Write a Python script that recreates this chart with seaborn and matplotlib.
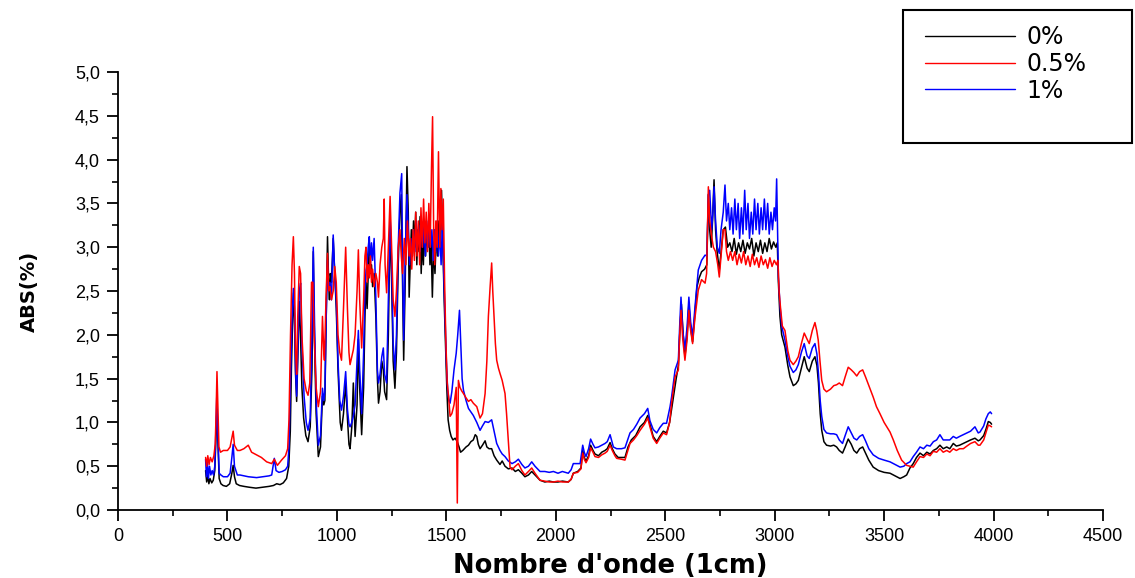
import matplotlib
matplotlib.use("Agg")
import matplotlib.pyplot as plt
from matplotlib.patches import Rectangle
from matplotlib.lines import Line2D
import matplotlib.ticker as mticker
import seaborn as sns
import pandas as pd

# ─── DATA ───────────────────────────────────────────────────────────────────
spec_0pct = [
    (400, 0.45), (405, 0.32), (410, 0.40), (415, 0.30), (420, 0.36), (428, 0.31), (435, 0.34),
    (442, 0.45), (448, 0.85), (452, 1.15), (456, 0.80), (462, 0.36), (470, 0.30), (480, 0.28),
    (495, 0.27), (510, 0.30), (520, 0.42), (526, 0.51), (532, 0.38), (540, 0.30), (555, 0.28),
    (575, 0.27), (600, 0.26), (630, 0.25), (660, 0.26), (690, 0.27), (710, 0.28), (725, 0.30),
    (740, 0.29), (755, 0.31), (770, 0.36), (780, 0.50), (787, 0.90), (792, 1.60), (797, 2.10),
    (802, 2.48), (806, 2.20), (811, 1.55), (816, 1.24), (821, 1.70), (828, 2.38), (833, 2.05),
    (840, 1.40), (848, 1.05), (858, 0.85), (868, 0.78), (878, 0.95), (886, 1.60), (892, 2.95),
    (897, 2.00), (905, 1.10), (915, 0.61), (925, 0.72), (934, 1.30), (940, 1.20), (945, 1.25),
    (950, 2.00), (957, 3.12), (962, 2.60), (966, 2.40), (970, 2.70), (975, 2.60), (983, 3.10),
    (990, 2.70), (997, 2.30), (1005, 1.60), (1015, 1.00), (1021, 0.91), (1030, 1.10), (1040, 1.45),
    (1048, 1.05), (1055, 0.75), (1060, 0.70), (1068, 0.95), (1075, 1.45), (1083, 0.84), (1092, 1.20),
    (1098, 1.95), (1104, 1.40), (1113, 0.86), (1122, 1.40), (1128, 2.20), (1133, 2.60), (1138, 2.30),
    (1143, 2.70), (1148, 3.05), (1153, 2.70), (1158, 2.80), (1163, 2.55), (1170, 2.70), (1178, 2.20),
    (1185, 1.50), (1190, 1.22), (1197, 1.35), (1205, 1.70), (1212, 1.60), (1218, 1.35), (1227, 1.26),
    (1235, 2.00), (1243, 3.30), (1250, 2.60), (1257, 1.70), (1265, 1.39), (1272, 1.80), (1280, 2.80),
    (1288, 3.40), (1294, 3.60), (1300, 2.60), (1305, 1.71), (1312, 2.60), (1320, 3.92), (1326, 3.40),
    (1330, 2.43), (1335, 2.80), (1340, 3.20), (1345, 2.90), (1350, 3.30), (1355, 3.00), (1360, 3.40),
    (1365, 2.80), (1370, 3.20), (1375, 2.95), (1380, 3.35), (1385, 2.70), (1390, 3.10), (1395, 2.80),
    (1400, 3.30), (1405, 2.90), (1410, 3.20), (1415, 3.00), (1420, 3.25), (1425, 2.80), (1430, 3.10),
    (1436, 2.43), (1442, 3.00), (1448, 2.70), (1455, 3.20), (1460, 2.90), (1466, 3.30), (1472, 3.00),
    (1478, 3.65), (1484, 3.00), (1490, 2.40), (1496, 1.90), (1502, 1.40), (1508, 1.03), (1515, 0.91),
    (1522, 0.84), (1530, 0.80), (1540, 0.82), (1550, 0.78), (1558, 0.72), (1565, 0.66), (1575, 0.68),
    (1590, 0.72), (1601, 0.74), (1612, 0.78), (1623, 0.80), (1632, 0.86), (1639, 0.84), (1646, 0.75),
    (1654, 0.70), (1665, 0.74), (1677, 0.79), (1685, 0.72), (1695, 0.70), (1707, 0.70), (1718, 0.62),
    (1730, 0.57), (1745, 0.52), (1755, 0.56), (1768, 0.50), (1783, 0.47), (1800, 0.48), (1815, 0.44),
    (1829, 0.46), (1845, 0.42), (1859, 0.38), (1875, 0.40), (1890, 0.44), (1905, 0.40), (1928, 0.34),
    (1950, 0.32), (1970, 0.33), (1989, 0.32), (2010, 0.32), (2030, 0.33), (2057, 0.32), (2070, 0.35),
    (2080, 0.42), (2100, 0.44), (2115, 0.48), (2123, 0.68), (2130, 0.60), (2138, 0.56), (2150, 0.62),
    (2159, 0.74), (2170, 0.68), (2179, 0.64), (2195, 0.62), (2210, 0.66), (2225, 0.68), (2235, 0.70),
    (2248, 0.77), (2258, 0.70), (2270, 0.64), (2285, 0.60), (2300, 0.60), (2316, 0.60), (2330, 0.72),
    (2345, 0.80), (2365, 0.85), (2385, 0.95), (2405, 1.00), (2420, 1.08), (2430, 0.98), (2445, 0.84),
    (2461, 0.78), (2475, 0.84), (2491, 0.90), (2506, 0.88), (2520, 1.00), (2535, 1.25), (2550, 1.50),
    (2560, 1.65), (2568, 2.10), (2574, 2.35), (2582, 2.00), (2590, 1.75), (2600, 2.00), (2608, 2.35),
    (2615, 2.10), (2625, 1.92), (2636, 2.25), (2645, 2.55), (2655, 2.65), (2666, 2.72), (2680, 2.75),
    (2690, 2.80), (2697, 3.60), (2703, 3.20), (2710, 3.00), (2716, 3.30), (2723, 3.77), (2730, 3.20),
    (2737, 2.95), (2747, 2.74), (2755, 2.95), (2765, 3.20), (2775, 3.23), (2785, 3.00), (2795, 3.05),
    (2805, 2.95), (2815, 3.10), (2825, 2.92), (2835, 3.05), (2845, 2.95), (2855, 3.08), (2865, 2.93),
    (2875, 3.05), (2885, 2.98), (2895, 3.10), (2905, 2.90), (2915, 3.05), (2925, 2.95), (2935, 3.08),
    (2945, 2.93), (2955, 3.05), (2965, 2.95), (2975, 3.10), (2985, 2.98), (2995, 3.06), (3005, 3.00),
    (3012, 3.05), (3017, 2.60), (3024, 2.21), (3032, 2.00), (3047, 1.86), (3060, 1.65), (3070, 1.52),
    (3085, 1.42), (3097, 1.44), (3108, 1.48), (3122, 1.62), (3135, 1.75), (3148, 1.62), (3158, 1.58),
    (3172, 1.70), (3184, 1.75), (3193, 1.65), (3200, 1.45), (3208, 1.10), (3215, 0.91), (3225, 0.78),
    (3237, 0.74), (3255, 0.73), (3270, 0.74), (3283, 0.72), (3295, 0.68), (3310, 0.65), (3322, 0.72),
    (3336, 0.81), (3350, 0.75), (3362, 0.68), (3375, 0.65), (3388, 0.70), (3402, 0.72), (3415, 0.65),
    (3430, 0.57), (3450, 0.49), (3475, 0.45), (3500, 0.43), (3527, 0.42), (3550, 0.39), (3573, 0.36),
    (3590, 0.38), (3603, 0.40), (3618, 0.48), (3633, 0.53), (3648, 0.60), (3664, 0.65), (3680, 0.62),
    (3695, 0.66), (3710, 0.64), (3725, 0.68), (3740, 0.70), (3755, 0.74), (3770, 0.70), (3786, 0.72),
    (3800, 0.70), (3816, 0.76), (3830, 0.73), (3845, 0.74), (3862, 0.76), (3878, 0.78), (3895, 0.80),
    (3915, 0.82), (3930, 0.79), (3938, 0.80), (3955, 0.85), (3965, 0.92), (3976, 1.01), (3985, 1.00),
    (3991, 0.98),
]

spec_05pct = [
    (400, 0.60), (405, 0.50), (410, 0.62), (416, 0.52), (422, 0.60), (430, 0.55), (438, 0.62),
    (444, 0.75), (448, 1.10), (452, 1.58), (456, 1.20), (461, 0.72), (468, 0.66), (481, 0.68),
    (500, 0.68), (512, 0.72), (520, 0.82), (526, 0.90), (532, 0.74), (545, 0.68), (557, 0.68),
    (575, 0.70), (595, 0.74), (610, 0.66), (633, 0.63), (655, 0.60), (679, 0.55), (702, 0.53),
    (714, 0.58), (728, 0.51), (747, 0.57), (765, 0.62), (775, 0.70), (781, 1.03), (788, 2.00),
    (795, 2.80), (801, 3.12), (806, 2.70), (811, 1.80), (816, 1.55), (821, 2.20), (828, 2.78),
    (834, 2.70), (840, 2.00), (850, 1.50), (860, 1.36), (868, 1.31), (876, 1.45), (884, 2.60),
    (890, 2.60), (896, 2.00), (905, 1.40), (915, 1.18), (925, 1.35), (934, 2.21), (940, 1.80),
    (943, 1.71), (950, 2.40), (957, 2.93), (962, 2.50), (968, 2.55), (975, 2.40), (983, 2.50),
    (990, 2.78), (997, 2.60), (1005, 2.00), (1013, 1.80), (1021, 1.71), (1030, 2.30), (1040, 3.00),
    (1048, 2.30), (1055, 1.80), (1060, 1.66), (1068, 1.75), (1075, 1.83), (1083, 2.00), (1092, 2.50),
    (1098, 2.97), (1104, 2.40), (1113, 1.85), (1122, 2.40), (1128, 2.90), (1133, 3.00), (1138, 2.60),
    (1143, 2.80), (1148, 2.65), (1153, 2.90), (1158, 2.60), (1163, 2.75), (1170, 2.55), (1178, 2.70),
    (1185, 2.60), (1190, 2.43), (1197, 2.80), (1205, 3.00), (1212, 3.10), (1216, 3.55), (1220, 2.80),
    (1227, 2.48), (1235, 3.00), (1243, 3.58), (1250, 3.00), (1257, 2.40), (1265, 2.21), (1272, 2.50),
    (1280, 3.00), (1288, 3.20), (1294, 2.90), (1300, 2.70), (1308, 3.10), (1315, 2.80), (1322, 3.30),
    (1330, 2.90), (1336, 3.10), (1342, 2.75), (1348, 3.20), (1354, 2.85), (1360, 3.40), (1366, 2.90),
    (1372, 3.30), (1378, 2.80), (1384, 3.45), (1390, 3.00), (1396, 3.55), (1402, 3.05), (1408, 3.40),
    (1414, 2.95), (1420, 3.50), (1426, 3.00), (1432, 3.90), (1437, 4.49), (1442, 3.20), (1447, 2.80),
    (1452, 3.30), (1458, 3.00), (1464, 4.09), (1470, 3.00), (1475, 3.67), (1480, 3.20), (1486, 3.55),
    (1492, 2.60), (1498, 1.90), (1504, 1.45), (1510, 1.30), (1517, 1.07), (1525, 1.10), (1535, 1.20),
    (1545, 1.40), (1550, 0.08), (1555, 1.48), (1562, 1.40), (1570, 1.36), (1578, 1.33), (1590, 1.28),
    (1601, 1.24), (1612, 1.26), (1623, 1.22), (1639, 1.18), (1654, 1.05), (1665, 1.10), (1677, 1.33),
    (1685, 1.70), (1692, 2.21), (1700, 2.55), (1707, 2.82), (1712, 2.50), (1718, 2.21), (1724, 1.90),
    (1730, 1.71), (1738, 1.62), (1745, 1.56), (1755, 1.48), (1768, 1.33), (1775, 1.10), (1783, 0.80),
    (1791, 0.49), (1800, 0.46), (1815, 0.50), (1829, 0.53), (1845, 0.45), (1859, 0.40), (1875, 0.44),
    (1890, 0.48), (1905, 0.42), (1928, 0.34), (1950, 0.33), (1970, 0.32), (1989, 0.32), (2010, 0.33),
    (2030, 0.32), (2057, 0.32), (2070, 0.35), (2080, 0.42), (2100, 0.43), (2115, 0.47), (2123, 0.65),
    (2130, 0.58), (2138, 0.54), (2150, 0.60), (2159, 0.71), (2170, 0.66), (2179, 0.61), (2195, 0.60),
    (2210, 0.63), (2225, 0.65), (2235, 0.67), (2248, 0.74), (2258, 0.68), (2270, 0.62), (2278, 0.59),
    (2300, 0.58), (2316, 0.57), (2339, 0.76), (2355, 0.80), (2370, 0.85), (2385, 0.91), (2405, 0.98),
    (2420, 1.05), (2430, 0.95), (2445, 0.82), (2461, 0.76), (2475, 0.82), (2491, 0.88), (2506, 0.86),
    (2520, 1.00), (2529, 1.22), (2545, 1.52), (2560, 1.60), (2566, 2.00), (2572, 2.28), (2580, 1.95),
    (2590, 1.71), (2600, 1.95), (2608, 2.28), (2616, 2.05), (2625, 1.90), (2636, 2.20), (2651, 2.51),
    (2666, 2.63), (2682, 2.59), (2689, 2.70), (2697, 3.69), (2703, 3.30), (2712, 3.12), (2720, 3.00),
    (2730, 2.95), (2740, 2.80), (2747, 2.66), (2755, 2.90), (2765, 3.20), (2773, 3.20), (2780, 2.95),
    (2788, 2.85), (2798, 2.95), (2808, 2.85), (2818, 2.95), (2828, 2.80), (2838, 2.92), (2848, 2.82),
    (2858, 2.95), (2868, 2.80), (2878, 2.90), (2888, 2.78), (2898, 2.92), (2908, 2.80), (2918, 2.88),
    (2928, 2.77), (2938, 2.90), (2948, 2.80), (2958, 2.86), (2968, 2.76), (2978, 2.88), (2988, 2.78),
    (2998, 2.85), (3008, 2.80), (3015, 2.85), (3020, 2.50), (3027, 2.30), (3035, 2.10), (3047, 2.05),
    (3060, 1.82), (3070, 1.71), (3085, 1.66), (3097, 1.70), (3108, 1.75), (3122, 1.90), (3135, 2.02),
    (3148, 1.95), (3158, 1.90), (3172, 2.05), (3184, 2.14), (3192, 2.05), (3199, 1.94), (3207, 1.70),
    (3215, 1.48), (3225, 1.38), (3237, 1.35), (3255, 1.38), (3270, 1.42), (3283, 1.43), (3295, 1.45),
    (3310, 1.42), (3322, 1.52), (3336, 1.63), (3350, 1.60), (3362, 1.57), (3375, 1.53), (3388, 1.58),
    (3402, 1.60), (3415, 1.52), (3430, 1.42), (3450, 1.29), (3465, 1.18), (3481, 1.10), (3500, 1.00),
    (3527, 0.89), (3542, 0.80), (3560, 0.68), (3580, 0.57), (3603, 0.51), (3618, 0.50), (3633, 0.49),
    (3648, 0.55), (3664, 0.61), (3680, 0.60), (3695, 0.64), (3710, 0.62), (3725, 0.67), (3740, 0.66),
    (3755, 0.70), (3770, 0.66), (3786, 0.68), (3800, 0.66), (3816, 0.70), (3830, 0.68), (3845, 0.70),
    (3862, 0.70), (3878, 0.73), (3895, 0.76), (3915, 0.78), (3930, 0.74), (3938, 0.74), (3955, 0.80),
    (3965, 0.88), (3976, 0.97), (3985, 0.96), (3991, 0.95),
]

spec_1pct = [
    (400, 0.58), (404, 0.38), (408, 0.55), (413, 0.36), (418, 0.50), (424, 0.40), (430, 0.45),
    (436, 0.40), (442, 0.50), (447, 0.90), (451, 1.29), (455, 0.95), (462, 0.42), (470, 0.40),
    (481, 0.38), (500, 0.38), (512, 0.42), (520, 0.60), (526, 0.75), (532, 0.50), (545, 0.40),
    (557, 0.40), (575, 0.39), (595, 0.38), (633, 0.37), (660, 0.38), (690, 0.39), (702, 0.40),
    (714, 0.59), (722, 0.45), (735, 0.43), (750, 0.44), (765, 0.46), (775, 0.50), (781, 0.72),
    (788, 1.50), (795, 2.20), (801, 2.53), (806, 2.30), (811, 1.60), (816, 1.30), (821, 1.80),
    (828, 2.49), (834, 2.59), (840, 1.90), (850, 1.30), (860, 1.00), (868, 0.91), (878, 1.05),
    (886, 2.00), (892, 3.00), (898, 2.10), (906, 1.20), (915, 0.74), (925, 0.85), (934, 1.39),
    (940, 1.25), (945, 1.35), (950, 2.10), (957, 2.85), (962, 2.50), (968, 2.60), (975, 2.40),
    (983, 3.14), (990, 2.70), (997, 2.40), (1005, 1.70), (1013, 1.25), (1021, 1.14), (1030, 1.30),
    (1040, 1.58), (1048, 1.15), (1055, 0.98), (1060, 0.95), (1068, 1.00), (1075, 1.07), (1083, 1.20),
    (1092, 1.70), (1098, 2.05), (1104, 1.60), (1113, 1.10), (1122, 1.80), (1128, 2.50), (1133, 2.74),
    (1138, 2.80), (1143, 3.00), (1148, 3.12), (1153, 2.80), (1158, 3.05), (1163, 2.85), (1170, 3.10),
    (1178, 2.40), (1185, 1.60), (1190, 1.45), (1197, 1.55), (1205, 1.75), (1212, 1.85), (1218, 1.55),
    (1227, 1.45), (1235, 2.40), (1243, 3.35), (1250, 2.80), (1257, 1.90), (1265, 1.60), (1272, 2.00),
    (1280, 3.00), (1288, 3.62), (1296, 3.84), (1300, 2.80), (1305, 1.94), (1312, 2.90), (1320, 3.60),
    (1326, 3.20), (1332, 2.80), (1338, 3.10), (1344, 2.90), (1350, 3.20), (1356, 2.95), (1362, 3.30),
    (1368, 3.00), (1374, 3.25), (1380, 2.95), (1386, 3.30), (1392, 3.00), (1398, 3.25), (1404, 2.90),
    (1410, 3.30), (1416, 3.00), (1422, 3.35), (1428, 3.00), (1434, 3.20), (1440, 2.85), (1446, 3.20),
    (1452, 2.95), (1458, 3.30), (1464, 2.90), (1470, 3.20), (1476, 2.80), (1482, 3.30), (1488, 2.70),
    (1494, 2.20), (1500, 1.70), (1506, 1.37), (1512, 1.25), (1517, 1.22), (1525, 1.35), (1535, 1.60),
    (1545, 1.79), (1552, 2.00), (1560, 2.28), (1566, 1.90), (1572, 1.50), (1578, 1.37), (1590, 1.25),
    (1601, 1.16), (1612, 1.12), (1623, 1.08), (1639, 1.00), (1654, 0.91), (1665, 0.96), (1677, 1.01),
    (1692, 1.00), (1707, 1.03), (1718, 0.90), (1730, 0.76), (1745, 0.68), (1755, 0.64), (1768, 0.61),
    (1783, 0.56), (1800, 0.53), (1815, 0.55), (1829, 0.58), (1845, 0.52), (1859, 0.48), (1875, 0.50),
    (1890, 0.55), (1905, 0.50), (1928, 0.44), (1950, 0.44), (1970, 0.43), (1989, 0.44), (2010, 0.42),
    (2030, 0.44), (2057, 0.42), (2070, 0.46), (2080, 0.53), (2111, 0.53), (2123, 0.74), (2130, 0.66),
    (2138, 0.61), (2150, 0.70), (2159, 0.81), (2170, 0.75), (2179, 0.71), (2195, 0.72), (2210, 0.74),
    (2225, 0.76), (2235, 0.78), (2248, 0.86), (2263, 0.72), (2278, 0.70), (2300, 0.70), (2316, 0.71),
    (2339, 0.88), (2355, 0.92), (2370, 0.98), (2385, 1.05), (2405, 1.10), (2420, 1.16), (2430, 1.02),
    (2445, 0.92), (2461, 0.88), (2475, 0.94), (2491, 0.99), (2506, 0.99), (2522, 1.18), (2529, 1.29),
    (2545, 1.60), (2560, 1.71), (2566, 2.10), (2572, 2.43), (2580, 2.05), (2590, 1.83), (2600, 2.10),
    (2608, 2.43), (2616, 2.15), (2625, 1.98), (2636, 2.32), (2651, 2.74), (2666, 2.85), (2682, 2.91),
    (2690, 2.90), (2697, 3.60), (2703, 3.65), (2712, 3.20), (2718, 3.40), (2723, 3.69), (2730, 3.30),
    (2738, 3.00), (2747, 2.93), (2755, 3.20), (2765, 3.40), (2773, 3.71), (2780, 3.30), (2788, 3.50),
    (2795, 3.20), (2803, 3.45), (2810, 3.15), (2818, 3.55), (2825, 3.20), (2833, 3.50), (2840, 3.10),
    (2848, 3.45), (2855, 3.15), (2863, 3.65), (2870, 3.20), (2878, 3.50), (2885, 3.10), (2893, 3.40),
    (2900, 3.15), (2908, 3.55), (2915, 3.20), (2923, 3.50), (2930, 3.15), (2938, 3.45), (2945, 3.20),
    (2953, 3.55), (2960, 3.20), (2968, 3.50), (2975, 3.15), (2983, 3.40), (2990, 3.20), (2998, 3.45),
    (3004, 3.30), (3009, 3.78), (3013, 3.20), (3017, 2.66), (3024, 2.35), (3032, 2.10), (3047, 1.94),
    (3060, 1.75), (3070, 1.64), (3085, 1.57), (3097, 1.60), (3108, 1.66), (3122, 1.80), (3135, 1.90),
    (3148, 1.76), (3158, 1.73), (3172, 1.85), (3184, 1.90), (3193, 1.78), (3200, 1.56), (3208, 1.25),
    (3215, 1.07), (3225, 0.92), (3237, 0.88), (3255, 0.87), (3270, 0.87), (3283, 0.86), (3295, 0.80),
    (3310, 0.76), (3322, 0.85), (3336, 0.95), (3350, 0.88), (3362, 0.82), (3375, 0.80), (3388, 0.84),
    (3402, 0.86), (3415, 0.79), (3430, 0.70), (3450, 0.63), (3475, 0.59), (3500, 0.57), (3527, 0.55),
    (3550, 0.52), (3573, 0.49), (3590, 0.50), (3603, 0.53), (3618, 0.55), (3633, 0.61), (3648, 0.66),
    (3664, 0.72), (3680, 0.70), (3695, 0.74), (3710, 0.73), (3725, 0.78), (3740, 0.80), (3755, 0.86),
    (3770, 0.80), (3786, 0.80), (3800, 0.80), (3816, 0.84), (3830, 0.82), (3845, 0.84), (3862, 0.86),
    (3878, 0.88), (3895, 0.90), (3915, 0.95), (3930, 0.88), (3938, 0.89), (3955, 0.96), (3965, 1.04),
    (3976, 1.10), (3985, 1.12), (3991, 1.10),
]

series_labels = ["0%", "0.5%", "1%"]
series_colors = ["#000000", "#ff0000", "#0000ff"]
x_ticks = [0, 500, 1000, 1500, 2000, 2500, 3000, 3500, 4000, 4500]
y_ticks = [0.0, 0.5, 1.0, 1.5, 2.0, 2.5, 3.0, 3.5, 4.0, 4.5, 5.0]
y_tick_labels = ["0,0", "0,5", "1,0", "1,5", "2,0", "2,5", "3,0", "3,5", "4,0", "4,5", "5,0"]

# ─── STYLE ───────────────────────────────────────────────────────────────────
sns.set_style("ticks")
plt.rcParams["font.family"] = ["Liberation Sans", "DejaVu Sans"]
plt.rcParams["text.color"] = "black"
plt.rcParams["axes.labelcolor"] = "black"

fig = plt.figure(figsize=(11.35, 5.78), dpi=100)
ax = fig.add_axes([0.104, 0.1176, 0.8678, 0.7578])

frames = []
for spec, lab in zip([spec_0pct, spec_05pct, spec_1pct], series_labels):
    d = pd.DataFrame(spec, columns=["wn", "abs"])
    d["sample"] = lab
    frames.append(d)
df = pd.concat(frames, ignore_index=True)

# draw order: black, blue, red (red sits on top in the dense region)
for lab, col in [("0%", "#000000"), ("1%", "#0000ff"), ("0.5%", "#ff0000")]:
    sub = df[df["sample"] == lab]
    sns.lineplot(data=sub, x="wn", y="abs", ax=ax, color=col, lw=1.1,
                 estimator=None, sort=False, legend=False)

ax.set_xlim(0, 4500)
ax.set_ylim(0, 5.0)
ax.set_xticks(x_ticks)
ax.set_xticklabels([str(t) for t in x_ticks], fontsize=13)
ax.set_yticks(y_ticks)
ax.set_yticklabels(y_tick_labels, fontsize=13)
ax.xaxis.set_minor_locator(mticker.MultipleLocator(250))
ax.yaxis.set_minor_locator(mticker.MultipleLocator(0.25))
ax.tick_params(which="major", direction="out", length=8, width=1.3, pad=5, colors="black")
ax.tick_params(which="minor", direction="out", length=4, width=1.2, colors="black")

sns.despine(ax=ax)
for s in ["left", "bottom"]:
    ax.spines[s].set_linewidth(1.3)
    ax.spines[s].set_color("black")

ax.set_xlabel("Nombre d'onde (1cm)", fontsize=18.5, fontweight="bold",
              family="DejaVu Sans", labelpad=6, color="black")
ax.set_ylabel("ABS(%)", fontsize=14, fontweight="bold", family="DejaVu Sans",
              labelpad=26, color="black")

# legend box in the top right corner (Origin style, with empty space below)
box = Rectangle((903 / 1135, 1 - 143 / 578), 229 / 1135, 133 / 578,
                transform=fig.transFigure, fill=False, edgecolor="black", lw=1.5)
fig.patches.append(box)
handles = [Line2D([0], [0], color=c, lw=1.0) for c in series_colors]
leg = fig.legend(handles, series_labels, loc="upper left",
                 bbox_to_anchor=(925 / 1135, 1 - 25 / 578), frameon=False,
                 prop={"family": "DejaVu Sans", "size": 17},
                 handlelength=3.8, handletextpad=0.5, labelspacing=0.12,
                 borderaxespad=0, borderpad=0)
for t in leg.get_texts():
    t.set_color("black")

fig.savefig("out.png", dpi=100, facecolor="white")
